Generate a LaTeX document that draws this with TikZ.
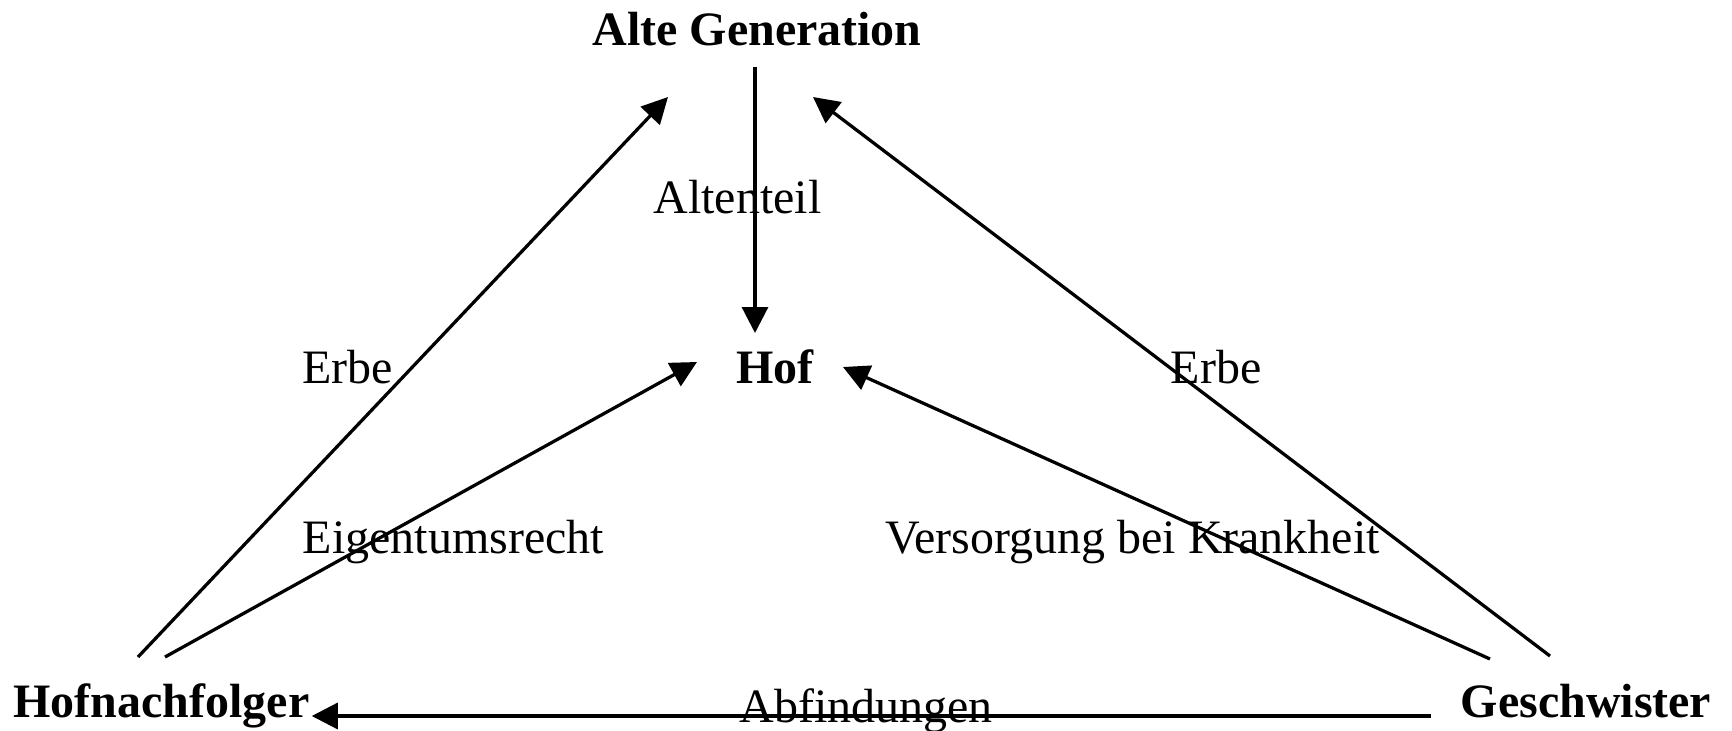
\documentclass[tikz,border=0pt]{standalone}
\usepackage{fontspec}
\setmainfont{Liberation Serif}
\usetikzlibrary{arrows.meta}
\tikzstyle{every picture}=[x=0.2mm, y=-0.2mm, >={Triangle[length=5.2mm,width=5.2mm]},%
	every node/.style={inner sep=0pt, anchor=base, font=\fontsize{27.3}{33}\selectfont}]
\tikzset{party/.style={font=\fontsize{27.3}{33}\selectfont\bfseries},
	flow/.style={->, line width=0.65mm}}

\begin{document}
\begin{tikzpicture}
	\useasboundingbox (0,0) rectangle (1732,731);
	% parties
	\node[party] (ag) at (757,45) {Alte Generation};
	\node[party] (hof) at (775,383) {Hof};
	\node[party] (hn) at (161.5,717) {Hofnachfolger};
	\node[party] (gs) at (1586,717) {Geschwister};
	% flows
	\draw[flow] ([shift={(-2,22)}]ag.base) -- ([shift={(-20,-50)}]hof.base);
	\draw[flow] ([shift={(-23.5,-60)}]hn.base) -- ([shift={(-89,52)}]ag.base);
	\draw[flow] ([shift={(3.5,-60)}]hn.base) -- ([shift={(-78,-21)}]hof.base);
	\draw[flow] ([shift={(-36,-61)}]gs.base) -- ([shift={(56,52)}]ag.base);
	\draw[flow] ([shift={(-96,-58)}]gs.base) -- ([shift={(68,-16)}]hof.base);
	\draw[flow] ([shift={(-29,-1)}]gs.base west) -- ([shift={(2,-1)}]hn.base east);
	% labels
	\node (altenteil) at (737.5,213) {Altenteil};
	\node (erbeL) at (347.5,383) {Erbe};
	\node (erbeR) at (1216,383) {Erbe};
	\node (eigentum) at (453.5,553) {Eigentumsrecht};
	\node (versorgung) at (1132.5,553) {Versorgung bei Krankheit};
	\node (abfindung) at (866,722) {Abfindungen};
\end{tikzpicture}
\end{document}
